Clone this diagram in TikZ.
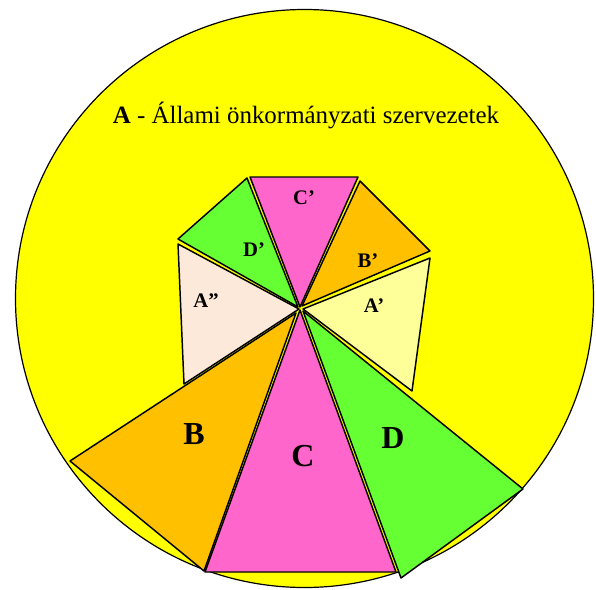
\documentclass[tikz,border=0pt]{standalone}
\usepackage{fontspec}
\setmainfont{Liberation Serif}
\definecolor{sunyellow}{RGB}{255,255,0}
\definecolor{segpink}{RGB}{255,102,204}
\definecolor{seggreen}{RGB}{102,255,51}
\definecolor{segorange}{RGB}{255,192,0}
\definecolor{segcream}{RGB}{255,255,153}
\definecolor{segpeach}{RGB}{253,233,217}
\begin{document}
\begin{tikzpicture}[x=0.75pt,y=-0.75pt,line cap=round,line join=round,
  seg/.style={draw=black,line width=1.1pt},
  smalllab/.style={font=\fontsize{15.5}{17}\selectfont\bfseries},
  biglab/.style={font=\fontsize{24}{26}\selectfont\bfseries}]
\useasboundingbox (0,0) rectangle (596,589);
% outer disc
\coordinate (M) at (304.5,298.5);
\filldraw[fill=sunyellow,draw=black,line width=0.9pt] (M) circle (289);
% upper fan
\coordinate (c1) at (250,177);
\coordinate (c2) at (358,177);
\coordinate (c3) at (300,307);
\coordinate (d1) at (247,178);
\coordinate (d2) at (178,239);
\coordinate (d3) at (298,307);
\coordinate (b1) at (360,181);
\coordinate (b2) at (430,251);
\coordinate (b3) at (302,306);
\coordinate (a1) at (430,258);
\coordinate (a2) at (412,391);
\coordinate (a3) at (303,309);
\coordinate (e1) at (178,244);
\coordinate (e2) at (184,384);
\coordinate (e3) at (299,309);
% lower fan
\coordinate (B1) at (296,313);
\coordinate (B2) at (70,461);
\coordinate (B3) at (204,571);
\coordinate (C1) at (300,310);
\coordinate (C2) at (205,572);
\coordinate (C3) at (396,572);
\coordinate (D1) at (303,311);
\coordinate (D2) at (523,489);
\coordinate (D3) at (401,578);
\filldraw[seg,fill=seggreen] (d1) -- (d2) -- (d3) -- cycle;
\node[smalllab] (Dp) at (254,250) {D’};
\filldraw[seg,fill=segpink] (c1) -- (c2) -- (c3) -- cycle;
\filldraw[seg,fill=segorange] (b1) -- (b2) -- (b3) -- cycle;
\filldraw[seg,fill=segcream] (a1) -- (a2) -- (a3) -- cycle;
\filldraw[seg,fill=segpeach] (e1) -- (e2) -- (e3) -- cycle;
\filldraw[seg,fill=segorange] (B1) -- (B2) -- (B3) -- cycle;
\filldraw[seg,fill=seggreen] (D1) -- (D2) -- (D3) -- cycle;
\filldraw[seg,fill=segpink] (C1) -- (C2) -- (C3) -- cycle;
% labels
\node[font=\fontsize{18.7}{20}\selectfont] (title) at (306,115) {\textbf{A} - Állami önkormányzati szervezetek};
\node[smalllab] (Cp) at (304,198) {C’};
\node[smalllab] (Bp) at (368,261) {B’};
\node[smalllab] (Ap) at (374,306) {A’};
\node[smalllab] (App) at (206,301) {A”};
\node[biglab] (Bl) at (194,434) {B};
\node[biglab] (Cl) at (303,456) {C};
\node[biglab] (Dl) at (393,438) {D};
\end{tikzpicture}
\end{document}
